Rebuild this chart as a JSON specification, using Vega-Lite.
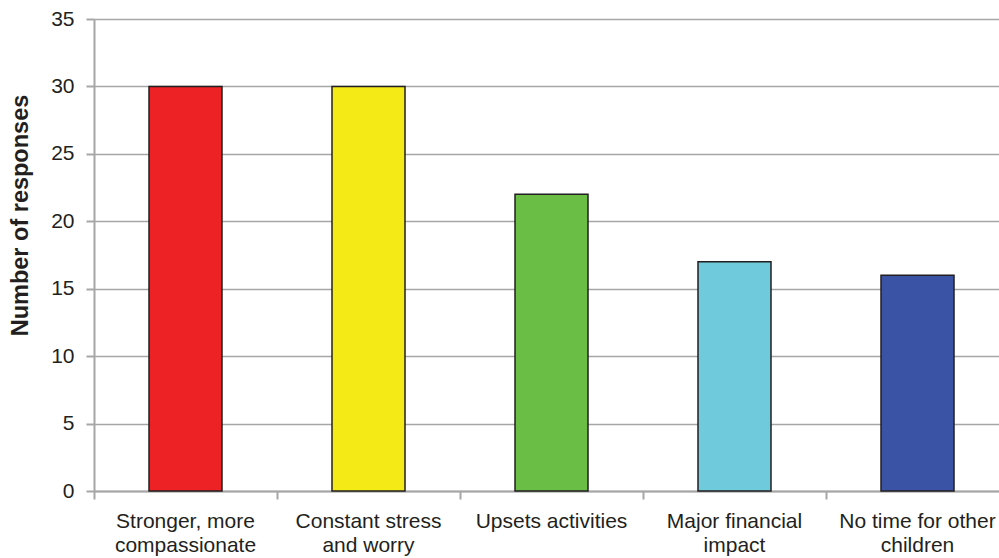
{
  "$schema": "https://vega.github.io/schema/vega-lite/v6.json",
  "autosize": "none",
  "width": 905,
  "height": 472,
  "padding": {"left": 94, "top": 19, "right": 0, "bottom": 67},
  "background": "white",
  "config": {"view": {"stroke": null}, "font": "Liberation Sans"},
  "data": {"values": [
    {"cause": "Stronger, more|compassionate", "responses": 30, "color": "#ED2224"},
    {"cause": "Constant stress|and worry", "responses": 30, "color": "#F4EA15"},
    {"cause": "Upsets activities", "responses": 22, "color": "#6ABD45"},
    {"cause": "Major financial|impact", "responses": 17, "color": "#6FCBDC"},
    {"cause": "No time for other|children", "responses": 16, "color": "#3A53A4"}
  ]},
  "mark": {"type": "bar", "width": 73, "stroke": "#231F20", "strokeWidth": 1.5},
  "encoding": {
    "x": {
      "field": "cause", "type": "nominal", "sort": null,
      "scale": {"paddingInner": 0, "paddingOuter": 0, "range": [0, 915]},
      "axis": {
        "title": null, "labelAngle": 0, "bandPosition": 0, "labelOffset": 0,
        "labelExpr": "split(datum.label, '|')",
        "labelFontSize": 21, "labelColor": "#231F20", "labelLineHeight": 24,
        "labelPadding": 11, "labelBaseline": "top", "labelOverlap": false,
        "domainColor": "#A6A6A6", "domainWidth": 2,
        "tickColor": "#A6A6A6", "tickWidth": 2, "tickSize": 8,
        "grid": false, "labelFont": "Liberation Sans"
      }
    },
    "y": {
      "field": "responses", "type": "quantitative",
      "scale": {"domain": [0, 35], "nice": false},
      "axis": {
        "title": "Number of responses", "titleFontSize": 23.5, "titleFontWeight": "bold",
        "titleColor": "#231F20", "titlePadding": 18, "titleFont": "Liberation Sans",
        "titleY": 196,
        "values": [0, 5, 10, 15, 20, 25, 30, 35],
        "labelFontSize": 21, "labelColor": "#231F20", "labelPadding": 12,
        "labelFont": "Liberation Sans",
        "domainColor": "#A6A6A6", "domainWidth": 2,
        "tickColor": "#A6A6A6", "tickWidth": 2, "tickSize": 8,
        "grid": true, "gridColor": "#A6A6A6", "gridWidth": 1.5
      }
    },
    "fill": {"field": "color", "type": "nominal", "scale": null}
  }
}
